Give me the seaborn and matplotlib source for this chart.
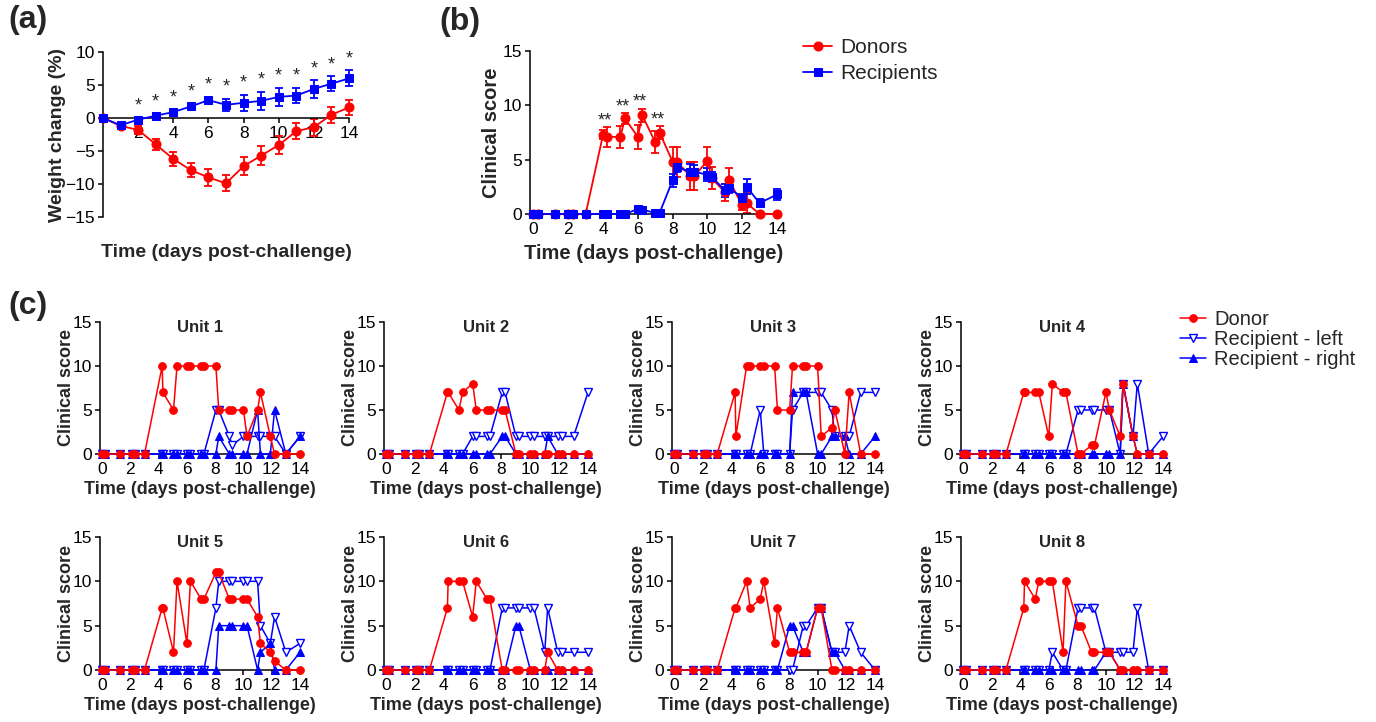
import matplotlib
matplotlib.use("Agg")
import matplotlib.pyplot as plt
import seaborn as sns

# ---- panel (a): weight change, daily means +/- SEM
days_a = list(range(15))
donor_wt = [0, -1.2, -1.8, -4.0, -6.2, -7.9, -9.0, -9.9, -7.3, -5.7, -4.1, -2.0, -1.4, 0.5, 1.6]
donor_wt_sem = [0, 0.3, 0.6, 0.8, 1.0, 1.1, 1.3, 1.2, 1.4, 1.4, 1.3, 1.2, 1.3, 1.2, 1.2]
recip_wt = [0, -1.1, -0.25, 0.35, 0.9, 1.75, 2.7, 2.0, 2.3, 2.6, 3.2, 3.4, 4.4, 5.2, 6.0]
recip_wt_sem = [0, 0.2, 0.3, 0.3, 0.3, 0.4, 0.5, 0.9, 1.2, 1.4, 1.4, 1.2, 1.3, 1.1, 1.2]
star_days_a = list(range(2, 15))

# ---- panel (b): mean clinical score, twice daily
times_b = [0, 0.25, 1.25, 2, 2.25, 3, 4, 4.25, 5, 5.25, 6, 6.25, 7, 7.25,
           8, 8.25, 9, 9.25, 10, 10.25, 11, 11.25, 12, 12.25, 13, 14]
donor_cs = [0, 0, 0, 0, 0, 0, 7.3, 7.1, 7.1, 8.8, 7.1, 9.1, 6.6, 7.5,
            4.8, 4.8, 3.5, 3.5, 4.9, 3.3, 2.0, 3.1, 0.8, 1.0, 0, 0]
donor_cs_sem = [0, 0, 0, 0, 0, 0, 0.4, 0.9, 1.0, 0.5, 1.1, 0.6, 1.0, 0.6,
                1.4, 1.4, 1.3, 1.3, 1.3, 1.0, 0.8, 1.1, 0.4, 0.9, 0, 0]
recip_cs = [0, 0, 0, 0, 0, 0, 0, 0, 0, 0, 0.45, 0.4, 0.1, 0.1,
            3.1, 4.3, 3.9, 3.9, 3.6, 3.4, 2.2, 2.4, 1.5, 2.5, 1.0, 1.8]
recip_cs_sem = [0, 0, 0, 0, 0, 0, 0, 0, 0, 0, 0.1, 0.1, 0.05, 0.05,
                0.6, 0.4, 0.7, 0.6, 0.6, 0.5, 0.6, 0.5, 0.3, 0.7, 0.4, 0.5]
star_pairs_b = [(6, 7), (8, 9), (10, 11), (12, 13)]

# ---- panel (c): individual units
times_c = [0, 0.2, 1.3, 2.1, 2.3, 3.0, 4.25, 4.3, 5.05, 5.3, 6.0, 6.25, 7.0, 7.2,
           8.05, 8.25, 9.0, 9.2, 10.0, 10.25, 11.0, 11.2, 11.9, 12.2, 13.0, 14.0]
unit_names = ["Unit 1", "Unit 2", "Unit 3", "Unit 4", "Unit 5", "Unit 6", "Unit 7", "Unit 8"]
donor_units = [
    [0, 0, 0, 0, 0, 0, 10, 7, 5, 10, 10, 10, 10, 10, 10, 5, 5, 5, 5, 2, 5, 7, 2, 0, 0, 0],
    [0, 0, 0, 0, 0, 0, 7, 7, 5, 7, 8, 5, 5, 5, 5, 5, 0, 0, 0, 0, 0, 0, 0, 0, 0, 0],
    [0, 0, 0, 0, 0, 0, 7, 2, 10, 10, 10, 10, 10, 5, 5, 10, 10, 10, 10, 2, 3, 5, 0, 7, 0, 0],
    [0, 0, 0, 0, 0, 0, 7, 7, 7, 7, 2, 8, 7, 7, 0, 0, 1, 1, 7, 5, 2, 8, 2, 0, 0, 0],
    [0, 0, 0, 0, 0, 0, 7, 7, 2, 10, 3, 10, 8, 8, 11, 11, 8, 8, 8, 8, 6, 3, 2, 1, 0, 0],
    [0, 0, 0, 0, 0, 0, 7, 10, 10, 10, 6, 10, 8, 8, 0, 0, 0, 0, 0, 0, 0, 2, 0, 0, 0, 0],
    [0, 0, 0, 0, 0, 0, 7, 7, 10, 7, 8, 10, 3, 7, 2, 2, 2, 2, 7, 7, 0, 0, 0, 0, 0, 0],
    [0, 0, 0, 0, 0, 0, 7, 10, 8, 10, 10, 10, 2, 10, 5, 5, 2, 2, 2, 2, 0, 0, 0, 0, 0, 0],
]
left_units = [
    [0, 0, 0, 0, 0, 0, 0, 0, 0, 0, 0, 0, 0, 0, 5, 5, 2, 1, 2, 2, 2, 2, 2, 2, 0, 2],
    [0, 0, 0, 0, 0, 0, 0, 0, 0, 0, 2, 2, 2, 2, 7, 7, 2, 2, 2, 2, 2, 2, 2, 2, 2, 7],
    [0, 0, 0, 0, 0, 0, 0, 0, 0, 0, 5, 0, 0, 0, 0, 5, 7, 7, 7, 7, 5, 2, 2, 2, 7, 7],
    [0, 0, 0, 0, 0, 0, 0, 0, 0, 0, 0, 0, 0, 0, 5, 5, 5, 5, 5, 5, 0, 8, 2, 8, 0, 2],
    [0, 0, 0, 0, 0, 0, 0, 0, 0, 0, 0, 0, 0, 0, 7, 10, 10, 10, 10, 10, 10, 5, 3, 6, 2, 3],
    [0, 0, 0, 0, 0, 0, 0, 0, 0, 0, 0, 0, 0, 0, 7, 7, 7, 7, 7, 7, 2, 7, 2, 2, 2, 2],
    [0, 0, 0, 0, 0, 0, 0, 0, 0, 0, 0, 0, 0, 0, 0, 0, 5, 5, 7, 7, 2, 2, 2, 5, 2, 0],
    [0, 0, 0, 0, 0, 0, 0, 0, 0, 0, 0, 2, 0, 0, 7, 7, 7, 7, 2, 2, 2, 2, 2, 7, 0, 0],
]
right_units = [
    [0, 0, 0, 0, 0, 0, 0, 0, 0, 0, 0, 0, 0, 0, 0, 2, 0, 0, 0, 0, 5, 0, 0, 5, 0, 2],
    [0, 0, 0, 0, 0, 0, 0, 0, 0, 0, 0, 0, 0, 0, 2, 2, 0, 0, 0, 0, 0, 2, 0, 0, 0, 0],
    [0, 0, 0, 0, 0, 0, 0, 0, 0, 0, 0, 0, 0, 0, 0, 7, 7, 7, 0, 0, 2, 2, 2, 0, 0, 2],
    [0, 0, 0, 0, 0, 0, 0, 0, 0, 0, 0, 0, 0, 0, 0, 0, 0, 0, 0, 0, 0, 8, 2, 0, 0, 0],
    [0, 0, 0, 0, 0, 0, 0, 0, 0, 0, 0, 0, 0, 0, 0, 5, 5, 5, 5, 5, 0, 2, 3, 0, 0, 2],
    [0, 0, 0, 0, 0, 0, 0, 0, 0, 0, 0, 0, 0, 0, 0, 0, 5, 5, 0, 0, 0, 0, 0, 0, 0, 0],
    [0, 0, 0, 0, 0, 0, 0, 0, 0, 0, 0, 0, 0, 0, 5, 5, 2, 2, 7, 7, 2, 2, 0, 0, 0, 0],
    [0, 0, 0, 0, 0, 0, 0, 0, 0, 0, 0, 0, 0, 0, 0, 0, 0, 0, 2, 2, 0, 0, 0, 0, 0, 0],
]

RED = "#ff0000"
BLUE = "#0000ff"

sns.set_style("ticks")
plt.rcParams["font.family"] = ["Liberation Sans", "DejaVu Sans"]
plt.rcParams["axes.linewidth"] = 1.1
plt.rcParams["xtick.major.width"] = 1.1
plt.rcParams["ytick.major.width"] = 1.1
plt.rcParams["xtick.major.size"] = 3.5
plt.rcParams["ytick.major.size"] = 3.5
plt.rcParams["xtick.major.pad"] = 2.5
plt.rcParams["ytick.major.pad"] = 2.5
plt.rcParams["xtick.labelsize"] = 12.5
plt.rcParams["ytick.labelsize"] = 12.5
plt.rcParams["axes.edgecolor"] = "black"
plt.rcParams["xtick.color"] = "black"
plt.rcParams["ytick.color"] = "black"

W, H = 1376, 722
fig = plt.figure(figsize=(W / 100, H / 100), dpi=100)


def add_ax(left, top, right, bottom):
    return fig.add_axes([left / W, 1 - bottom / H, (right - left) / W, (bottom - top) / H])


def style(ax, ylab, xlab, ylab_off, xlab_off, w, h, size=12):
    for s in ["top", "right"]:
        ax.spines[s].set_visible(False)
    ax.set_ylabel(ylab, fontsize=size, fontweight="bold")
    ax.set_xlabel(xlab, fontsize=size, fontweight="bold")
    ax.yaxis.set_label_coords(-ylab_off / w, 0.5)
    ax.xaxis.set_label_coords(0.5, -xlab_off / h)


# ---------------- (a)
ax = add_ax(103, 52, 349, 217)
sns.lineplot(x=days_a, y=donor_wt, ax=ax, color=RED, marker="o", markersize=6.5,
             markeredgecolor=RED, linewidth=1.3, estimator=None, sort=False,
             legend=False, clip_on=False, zorder=3)
sns.lineplot(x=days_a, y=recip_wt, ax=ax, color=BLUE, marker="s", markersize=6,
             markeredgecolor=BLUE, linewidth=1.3, estimator=None, sort=False,
             legend=False, clip_on=False, zorder=3)
ax.errorbar(days_a, donor_wt, yerr=donor_wt_sem, fmt="none", ecolor=RED,
            elinewidth=1.3, capsize=3.2, capthick=1.3, clip_on=False)
ax.errorbar(days_a, recip_wt, yerr=recip_wt_sem, fmt="none", ecolor=BLUE,
            elinewidth=1.3, capsize=3.2, capthick=1.3, clip_on=False)
for d in star_days_a:
    ax.text(d, recip_wt[d] + recip_wt_sem[d] + 0.5, "*", ha="center", va="bottom", fontsize=13)
ax.set_xlim(0, 14)
ax.set_ylim(-15, 10)
ax.set_xticks(range(2, 15, 2))
ax.set_yticks(range(-15, 11, 5))
ax.spines["bottom"].set_position(("data", 0))
style(ax, "Weight change (%)", "Time (days post-challenge)", 37, 27, 246, 165, size=14)
fig.text(8 / W, 1 - 20 / H, "(a)", fontsize=23, fontweight="bold", va="center", ha="left")

# ---------------- (b)
ax = add_ax(530, 51, 777, 214)
sns.lineplot(x=times_b, y=donor_cs, ax=ax, color=RED, marker="o", markersize=6.5,
             markeredgecolor=RED, linewidth=1.3, estimator=None, sort=False,
             legend=False, clip_on=False, zorder=3, label="Donors")
sns.lineplot(x=times_b, y=recip_cs, ax=ax, color=BLUE, marker="s", markersize=6,
             markeredgecolor=BLUE, linewidth=1.3, estimator=None, sort=False,
             legend=False, clip_on=False, zorder=3, label="Recipients")
ax.errorbar(times_b, donor_cs, yerr=donor_cs_sem, fmt="none", ecolor=RED,
            elinewidth=1.3, capsize=3.2, capthick=1.3, clip_on=False)
ax.errorbar(times_b, recip_cs, yerr=recip_cs_sem, fmt="none", ecolor=BLUE,
            elinewidth=1.3, capsize=3.2, capthick=1.3, clip_on=False)
for i, j in star_pairs_b:
    top = max(donor_cs[i] + donor_cs_sem[i], donor_cs[j] + donor_cs_sem[j])
    ax.text((times_b[i] + times_b[j]) / 2, top - 0.2, "**", ha="center", va="bottom", fontsize=13)
ax.set_xlim(-0.2, 14)
ax.set_ylim(0, 15)
ax.set_xticks(range(0, 15, 2))
ax.set_yticks(range(0, 16, 5))
style(ax, "Clinical score", "Time (days post-challenge)", 29, 30, 247, 163, size=14.5)
h, l = ax.get_legend_handles_labels()
fig.legend(h, l, loc="upper left", bbox_to_anchor=(803 / W, 1 - 38 / H), frameon=False,
           fontsize=15, handlelength=1.4, handletextpad=0.4, labelspacing=0.35,
           borderaxespad=0, borderpad=0)
fig.text(439 / W, 1 - 22 / H, "(b)", fontsize=23, fontweight="bold", va="center", ha="left")

# ---------------- (c)
cols = [(100, 300), (384, 588), (672, 875), (961, 1163)]
rows = [(322, 454), (537, 670)]
for k, name in enumerate(unit_names):
    l0, r0 = cols[k % 4]
    t0, b0 = rows[k // 4]
    ax = add_ax(l0, t0, r0, b0)
    sns.lineplot(x=times_c, y=left_units[k], ax=ax, color=BLUE, marker="v", markersize=5.5,
                 markerfacecolor="white", markeredgecolor=BLUE, markeredgewidth=1,
                 linewidth=1.1, estimator=None, sort=False, legend=False, clip_on=False,
                 zorder=3, label="Recipient - left")
    sns.lineplot(x=times_c, y=right_units[k], ax=ax, color=BLUE, marker="^", markersize=5.5,
                 markeredgecolor=BLUE, linewidth=1.1, estimator=None, sort=False,
                 legend=False, clip_on=False, zorder=3, label="Recipient - right")
    sns.lineplot(x=times_c, y=donor_units[k], ax=ax, color=RED, marker="o", markersize=5.5,
                 markeredgecolor=RED, linewidth=1.1, estimator=None, sort=False,
                 legend=False, clip_on=False, zorder=4, label="Donor")
    ax.set_xlim(-0.15, 14)
    ax.set_ylim(0, 15)
    ax.set_xticks(range(0, 15, 2))
    ax.set_yticks(range(0, 16, 5))
    style(ax, "Clinical score", "Time (days post-challenge)", 25, 27, r0 - l0, b0 - t0, size=13)
    ax.text(0.5, 0.955, name, transform=ax.transAxes, ha="center", va="center",
            fontsize=12, fontweight="bold")
    if k == 0:
        hh, ll = ax.get_legend_handles_labels()
        order = [2, 0, 1]
        fig.legend([hh[i] for i in order], [ll[i] for i in order], loc="upper left",
                   bbox_to_anchor=(1180 / W, 1 - 310 / H), frameon=False, fontsize=14.5,
                   handlelength=1.3, handletextpad=0.4, labelspacing=0.05,
                   borderaxespad=0, borderpad=0)
fig.text(8 / W, 1 - 306 / H, "(c)", fontsize=23, fontweight="bold", va="center", ha="left")

fig.savefig("out.png", dpi=100)
